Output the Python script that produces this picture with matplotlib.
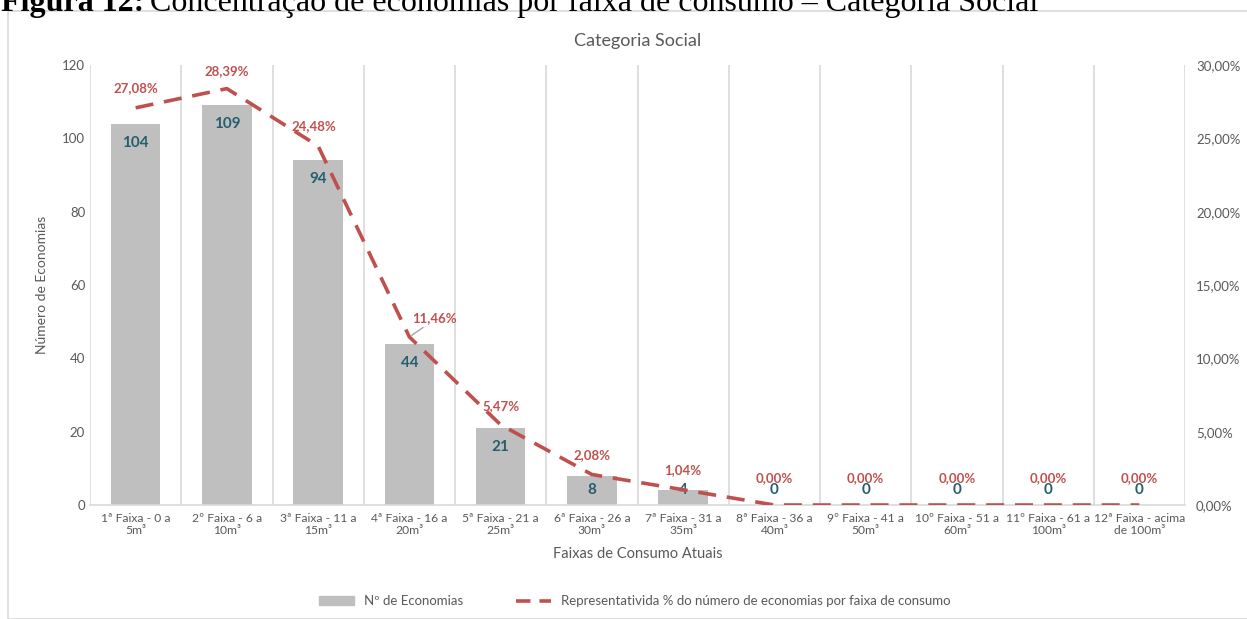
import matplotlib
matplotlib.use("Agg")
import matplotlib.pyplot as plt
import matplotlib.patches as mpatches
from matplotlib.lines import Line2D
import numpy as np

plt.rcParams['font.family'] = ['Lato', 'DejaVu Sans']

# data
faixas = ["1ª Faixa - 0 a\n5m³", "2º Faixa - 6 a\n10m³", "3ª Faixa - 11 a\n15m³",
          "4ª Faixa - 16 a\n20m³", "5ª Faixa - 21 a\n25m³", "6ª Faixa - 26 a\n30m³",
          "7ª Faixa - 31 a\n35m³", "8ª Faixa - 36 a\n40m³", "9º Faixa - 41 a\n50m³",
          "10º Faixa - 51 a\n60m³", "11º Faixa - 61 a\n100m³", "12ª Faixa - acima\nde 100m³"]
n_economias = [104, 109, 94, 44, 21, 8, 4, 0, 0, 0, 0, 0]
perc = [27.08, 28.39, 24.48, 11.46, 5.47, 2.08, 1.04, 0.00, 0.00, 0.00, 0.00, 0.00]

bar_color = "#BFBFBF"
line_color = "#C0504D"
num_color = "#255E6F"
txt_color = "#595959"
grid_color = "#D9D9D9"

W, H = 1247, 619
fig = plt.figure(figsize=(W / 100, H / 100), dpi=100)

# outer chart frame
fig.patches.append(mpatches.Rectangle((8 / W, 0), 1.0, 1 - 11 / H, transform=fig.transFigure,
                                      fill=False, edgecolor=grid_color, lw=1.2))

# caption (cut off at the top, like the reference)
cap1 = fig.text(1 / W, 1 - 11 / H, "Figura 12:", fontsize=23, va='baseline',
                family='Liberation Serif', weight='bold')
fig.canvas.draw()
bb = cap1.get_window_extent()
fig.text((bb.x1 + 6) / W, 1 - 11 / H, "Concentração de economias por faixa de consumo – Categoria Social",
         fontsize=23, va='baseline', family='Liberation Serif')

ax = fig.add_axes([90 / W, 1 - 505 / H, (1185 - 90) / W, 440 / H])
x = np.arange(len(faixas))
ax.bar(x, n_economias, width=0.54, color=bar_color, zorder=2)
ax.set_xlim(-0.5, len(faixas) - 0.5)
ax.set_ylim(0, 120)
ax.set_yticks(np.arange(0, 121, 20))
ax.set_xticks(x)
ax.set_xticklabels(faixas, color=txt_color, linespacing=1.1)
ax.tick_params(axis='both', length=0, colors=txt_color, labelsize=9.5)
ax.tick_params(axis='x', pad=6, labelsize=8.7)
for b in np.arange(-0.5, len(faixas), 1.0):
    ax.axvline(b, color=grid_color, lw=1.2, zorder=1)
for s in ["top", "right", "left"]:
    ax.spines[s].set_visible(False)
ax.spines["bottom"].set_color(grid_color)
ax.spines["bottom"].set_linewidth(1.2)
ax.set_ylabel("Número de Economias", fontsize=10, color=txt_color, labelpad=10)
ax.set_xlabel("Faixas de Consumo Atuais", fontsize=10.5, color=txt_color, labelpad=8)
ax.set_title("Categoria Social", fontsize=13, color=txt_color, pad=14)

for xi, v in zip(x, n_economias):
    ypos = max(v - 5.2, 4.1)
    ax.text(xi, ypos, str(v), ha='center', va='center', fontsize=11, weight='bold',
            color=num_color, zorder=5)

ax2 = ax.twinx()
ax2.plot(x, perc, color=line_color, lw=2.6, dashes=(5, 3), zorder=4)
ax2.set_ylim(0, 30)
ax2.set_yticks(np.arange(0, 31, 5))
ax2.set_yticklabels([f"{t:.2f}%".replace(".", ",") for t in np.arange(0, 31, 5)])
ax2.tick_params(axis='y', length=0, colors=txt_color, labelsize=9.5, pad=8)
for s in ["top", "right", "left", "bottom"]:
    ax2.spines[s].set_visible(False)

offsets = [(0, 20), (0, 18), (-4, 20), (25, 19), (0, 19), (0, 19), (0, 20),
           (0, 27), (0, 27), (0, 27), (0, 27), (0, 27)]
for xi, p, off in zip(x, perc, offsets):
    ax2.annotate(f"{p:.2f}%".replace(".", ","), (xi, p), xytext=off, textcoords='offset pixels',
                 ha='center', va='center', fontsize=9.5, weight='bold', color=line_color, zorder=6)
# leader line for 11,46%
ax2.annotate("", (3, perc[3]), xytext=(16, 11), textcoords='offset pixels',
             arrowprops=dict(arrowstyle='-', color='#A6A6A6', lw=1))

handles = [mpatches.Patch(color=bar_color, label="Nº de Economias"),
           Line2D([0], [0], color=line_color, lw=2.6, dashes=(4, 2.5),
                  label="Representativida % do número de economias por faixa de consumo")]
fig.legend(handles=handles, loc='center', bbox_to_anchor=(635 / W, 1 - 601 / H), ncol=2,
           frameon=False, fontsize=9.5, labelcolor=txt_color, handlelength=2.6,
           handleheight=0.6, columnspacing=4)

fig.savefig("out.png", dpi=100)
